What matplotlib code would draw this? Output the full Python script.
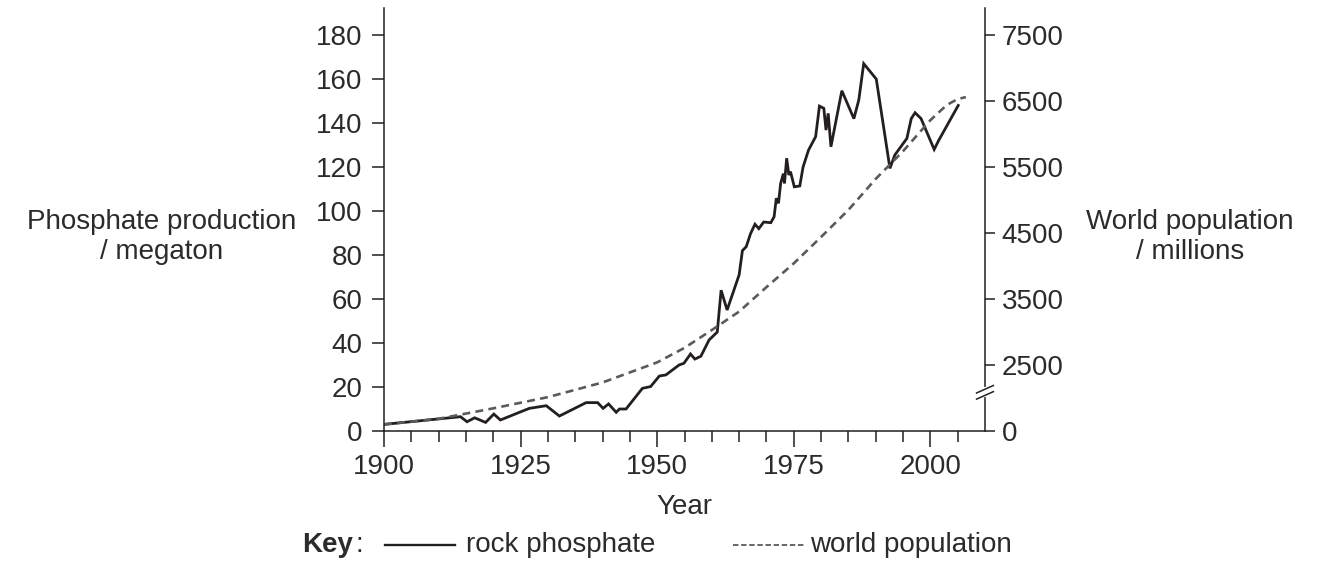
import numpy as np
import matplotlib
matplotlib.use('Agg')
import matplotlib.pyplot as plt
from matplotlib.lines import Line2D
import matplotlib.transforms as mtransforms

# Rock phosphate production (megaton)
rock_years = [1900, 1914, 1915.2, 1916.6, 1918.6, 1920.1, 1921.3, 1926.6, 1929.7, 1932.1,
              1937.0, 1939.1, 1940.1, 1941.1, 1942.5, 1943.1, 1944.3, 1947.3, 1948.8, 1950.4,
              1951.6, 1954.0, 1954.9, 1956.1, 1956.9, 1958.0, 1959.5, 1961.0, 1961.7, 1962.8,
              1965.0, 1965.6, 1966.3, 1967.1, 1967.9, 1968.6, 1969.5, 1970.8, 1971.4, 1971.8,
              1972.2, 1972.6, 1973.1, 1973.3, 1973.7, 1974.1, 1974.4, 1975.1, 1976.1, 1976.7,
              1977.7, 1979.0, 1979.7, 1980.5, 1980.9, 1981.3, 1981.8, 1983.8, 1986.0, 1986.9,
              1987.8, 1990.1, 1992.6, 1993.5, 1995.7, 1996.5, 1997.2, 1998.3, 2000.7, 2001.5,
              2003.3, 2005.1]
rock_values = [3.0, 6.5, 4.2, 6.0, 3.9, 7.7, 5.0, 10.3, 11.5, 6.8,
               12.9, 12.9, 10.3, 12.3, 8.5, 10.0, 10.0, 19.4, 20.2, 25.0,
               25.5, 30.0, 30.8, 35.0, 32.7, 34.0, 41.4, 45.0, 64.0, 55.0,
               71.0, 82.0, 83.8, 89.8, 94.0, 92.0, 95.0, 94.7, 97.4, 105.8,
               103.5, 112.6, 117.0, 112.6, 124.0, 116.4, 117.9, 111.0, 111.4, 120.0,
               127.7, 133.8, 147.7, 146.7, 136.8, 144.4, 129.2, 154.7, 142.0, 150.5,
               167.0, 160.0, 119.4, 125.5, 133.0, 142.0, 144.7, 142.0, 128.0, 132.0,
               140.0, 148.0]

# World population (millions)
pop_years = [1900, 1910, 1920, 1930, 1940, 1950, 1955, 1960, 1965, 1970,
             1975, 1980, 1985, 1990, 1995, 2000, 2003, 2005, 2006.5]
pop_values = [1650, 1730, 1880, 2040, 2250, 2540, 2760, 3030, 3310, 3680,
              4040, 4440, 4850, 5320, 5740, 6210, 6440, 6530, 6560]

left_ticks = [0, 20, 40, 60, 80, 100, 120, 140, 160, 180]
right_tick_labels = [0, 2500, 3500, 4500, 5500, 6500, 7500]
x_major = [1900, 1925, 1950, 1975, 2000]


# broken right axis: population is drawn on the left-axis scale
def pop_to_axis(p):
    return np.interp(p, [1650, 2500, 7500], [3, 30, 180])


W, H = 1339, 581
ink = '#231f20'
txt = '#2b2b2b'
plt.rcParams['font.family'] = ['Liberation Sans', 'DejaVu Sans']
plt.rcParams['font.size'] = 20

fig = plt.figure(figsize=(W / 100, H / 100), dpi=100)
ax = fig.add_axes([384 / W, 1 - 431 / H, (985 - 384) / W, (431 - 8) / H])

ax.plot(rock_years, rock_values, color=ink, lw=2.0, solid_joinstyle='miter')
ax.plot(pop_years, pop_to_axis(pop_values), color='#5a5a5e', lw=1.9,
        linestyle=(0, (3.0, 2.0)))

ax.set_xlim(1900, 2010)
ax.set_ylim(0, 192.3)
ax.set_yticks(left_ticks)
ax.set_xticks(x_major)
ax.set_xticks(np.arange(1905, 2010, 5), minor=True)
for s in ['top', 'right']:
    ax.spines[s].set_visible(False)
for s in ['left', 'bottom']:
    ax.spines[s].set_color(ink)
    ax.spines[s].set_linewidth(1.1)
ax.tick_params(axis='y', direction='out', length=8.6, width=1.1, color=ink,
               labelcolor=txt, pad=7)
ax.tick_params(axis='x', which='major', direction='out', length=11.5, width=1.1,
               color=ink, labelcolor=txt, pad=5)
ax.tick_params(axis='x', which='minor', direction='out', length=8, width=1.1, color=ink)
ax.set_xlabel('Year', color=txt, labelpad=10)

ax2 = ax.twinx()
ax2.set_ylim(ax.get_ylim())
ax2.set_yticks([0] + list(pop_to_axis(right_tick_labels[1:])))
ax2.set_yticklabels([str(v) for v in right_tick_labels])
for s in ['top', 'left', 'bottom']:
    ax2.spines[s].set_visible(False)
ax2.spines['right'].set_color(ink)
ax2.spines['right'].set_linewidth(1.1)
ax2.tick_params(axis='y', direction='out', length=7, width=1.1, color=ink,
                labelcolor=txt, pad=5)

# axis break marks on the right spine
tr = mtransforms.blended_transform_factory(ax2.transAxes, ax2.transData)
ax2.plot([1, 1], [16.2, 19.0], color='white', lw=3, transform=tr, clip_on=False, zorder=5)
for y0 in [16.2, 19.0]:
    ax2.plot([0.986, 1.014], [y0 - 1.7, y0 + 1.7], color=ink, lw=1.1,
             transform=tr, clip_on=False, zorder=6)

fig.text(162 / W, 1 - 237 / H, 'Phosphate production\n/ megaton', ha='center',
         va='center', color=txt, linespacing=1.2)
fig.text(1190 / W, 1 - 237 / H, 'World population\n/ millions', ha='center',
         va='center', color=txt, linespacing=1.2)

# key
ky = 1 - 545 / H
fig.text(302 / W, ky, 'Key', weight='bold', va='center', color=txt)
fig.text(355 / W, ky, ':', va='center', color=txt)
fig.add_artist(Line2D([385 / W, 455 / W], [ky, ky], color=ink, lw=1.7))
fig.text(466 / W, ky, 'rock phosphate', va='center', color=txt)
fig.add_artist(Line2D([733 / W, 806 / W], [ky, ky], color='#5a5a5e', lw=1.3,
                      linestyle=(0, (3, 1.5))))
fig.text(810 / W, ky, 'world population', va='center', color=txt)

fig.savefig('out.png', dpi=100)
